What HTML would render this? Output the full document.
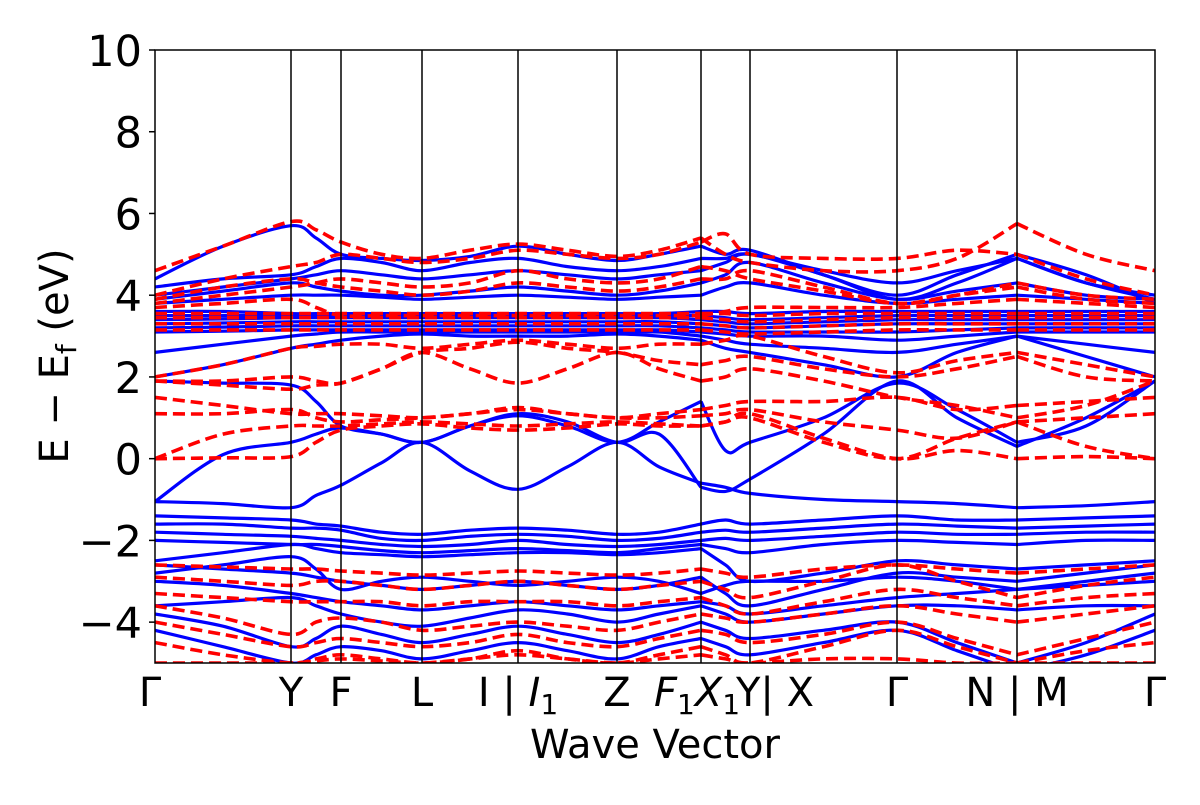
<!DOCTYPE html>
<html><head><meta charset="utf-8"><style>
html,body{margin:0;padding:0;background:#fff;}
svg text{font-family:"DejaVu Sans","Liberation Sans",sans-serif;fill:#000;}
</style></head><body>
<svg id="chart" width="1200" height="800" viewBox="0 0 1200 800" xmlns="http://www.w3.org/2000/svg">
<defs><clipPath id="clip"><rect x="155" y="50" width="1000" height="613"/></clipPath></defs>
<rect x="0" y="0" width="1200" height="800" fill="#fff"/>
<g id="bands" clip-path="url(#clip)"></g>
<g id="vlines"></g>
<rect x="155" y="50" width="1000" height="613" fill="none" stroke="#000" stroke-width="1.5"/>
<g id="yaxis"></g>
<g id="xaxis"></g>
<text x="655" y="758" font-size="40" text-anchor="middle">Wave Vector</text>
<text transform="translate(68,356) rotate(-90)" font-size="40" text-anchor="middle">E − E<tspan font-size="28" dy="8">f</tspan><tspan dy="-8"> (eV)</tspan></text>
</svg>
<script>
const kTicks=[0,136,186,267,363,462,546,595,742,862,1000];
const kLabels=["Γ","Y","F","L","I | <I>","Z","<F><X>","Y| X","Γ","N | M","Γ"];
const yTicks=[-4,-2,0,2,4,6,8,10];
const breakIdx=[12,18];
const blueBands=[
[-1.05,-1.1,-1.2,-0.9,-0.65,-0.1,0.4,-0.3,-0.75,-0.2,0.4,-0.2,-0.6,-0.7,-0.85,-1.0,-1.05,-1.1,-1.2,-1.15,-1.05],
[-1.05,0.1,0.4,0.6,0.75,0.6,0.4,0.8,1.05,0.8,0.4,0.9,1.4,0.2,0.4,1.0,1.85,1.2,0.4,0.8,1.9],
[1.9,1.85,1.8,1.4,0.8,0.6,0.4,0.8,1.1,0.9,0.4,0.6,-0.7,-0.8,-0.5,0.6,1.9,1.0,0.3,1.0,1.9],
[-1.4,-1.45,-1.5,-1.6,-1.65,-1.8,-1.85,-1.75,-1.7,-1.75,-1.85,-1.8,-1.6,-1.5,-1.6,-1.5,-1.4,-1.5,-1.5,-1.45,-1.4],
[-1.6,-1.6,-1.7,-1.7,-1.75,-1.95,-2.0,-1.9,-1.85,-1.9,-2.0,-1.95,-1.8,-1.75,-1.8,-1.7,-1.6,-1.65,-1.7,-1.65,-1.6],
[-1.8,-1.85,-1.9,-1.95,-2.0,-2.1,-2.15,-2.1,-2.0,-2.1,-2.15,-2.1,-2.0,-1.95,-2.0,-1.9,-1.8,-1.85,-1.85,-1.8,-1.8],
[-2.0,-2.05,-2.1,-2.1,-2.15,-2.25,-2.3,-2.25,-2.2,-2.25,-2.3,-2.2,-2.1,-2.2,-2.3,-2.1,-2.0,-2.05,-2.1,-2.0,-2.0],
[-2.5,-2.3,-2.1,-2.2,-2.3,-2.35,-2.4,-2.35,-2.3,-2.3,-2.35,-2.3,-2.2,-2.6,-3.0,-2.8,-2.5,-2.6,-2.7,-2.6,-2.5],
[-2.8,-2.6,-2.4,-2.7,-3.2,-3.0,-2.9,-3.0,-3.1,-3.0,-2.9,-3.0,-3.3,-3.1,-3.0,-3.0,-2.9,-3.0,-3.2,-3.0,-2.8],
[-3.0,-3.1,-3.3,-3.4,-3.5,-3.6,-3.7,-3.6,-3.5,-3.6,-3.7,-3.6,-3.5,-3.6,-3.8,-3.6,-3.4,-3.3,-3.2,-3.1,-3.0],
[-3.6,-3.5,-3.4,-3.6,-3.8,-4.0,-4.1,-3.9,-3.7,-3.8,-4.0,-3.8,-3.6,-3.8,-4.0,-3.8,-3.6,-3.6,-3.7,-3.6,-3.6],
[-3.8,-4.1,-4.6,-4.4,-4.1,-4.3,-4.5,-4.3,-4.1,-4.3,-4.5,-4.3,-4.0,-4.2,-4.4,-4.2,-4.0,-4.5,-5.0,-4.5,-3.8],
[-4.2,-4.6,-5.0,-4.8,-4.6,-4.7,-4.9,-4.7,-4.5,-4.7,-4.9,-4.6,-4.4,-4.6,-4.8,-4.5,-4.2,-4.7,-5.2,-4.8,-4.2],
[-2.6,-2.7,-2.8,-2.9,-3.0,-3.1,-3.2,-3.1,-3.0,-3.1,-3.2,-3.1,-2.9,-3.3,-3.6,-3.2,-2.8,-2.9,-3.0,-2.8,-2.6],
[2.0,2.3,2.7,2.8,2.9,3.0,3.05,3.0,3.0,3.0,3.05,3.0,2.9,2.7,2.6,2.3,2.0,2.6,3.0,2.5,2.0],
[2.6,2.8,3.0,3.05,3.1,3.1,3.1,3.1,3.1,3.1,3.1,3.1,3.0,2.9,2.8,2.7,2.6,2.8,3.0,2.8,2.6],
[3.1,3.12,3.15,3.15,3.15,3.15,3.15,3.15,3.15,3.15,3.15,3.15,3.1,3.05,3.0,3.0,2.9,3.0,3.1,3.1,3.1],
[3.2,3.22,3.25,3.25,3.25,3.25,3.25,3.25,3.25,3.25,3.25,3.25,3.2,3.15,3.1,3.1,3.1,3.15,3.2,3.2,3.2],
[3.3,3.32,3.35,3.35,3.35,3.35,3.35,3.35,3.35,3.35,3.35,3.35,3.3,3.25,3.2,3.25,3.3,3.3,3.3,3.3,3.3],
[3.4,3.42,3.45,3.45,3.45,3.45,3.45,3.45,3.45,3.45,3.45,3.45,3.4,3.35,3.3,3.35,3.4,3.4,3.4,3.4,3.4],
[3.5,3.5,3.5,3.5,3.5,3.5,3.5,3.5,3.5,3.5,3.5,3.5,3.5,3.45,3.4,3.45,3.5,3.5,3.5,3.5,3.5],
[3.6,3.6,3.55,3.55,3.55,3.55,3.55,3.55,3.55,3.55,3.55,3.55,3.6,3.6,3.55,3.6,3.6,3.6,3.6,3.6,3.6],
[3.8,3.9,4.0,4.0,4.0,3.95,3.9,3.95,4.0,3.95,3.9,3.95,4.0,4.2,4.3,4.0,3.8,3.9,4.0,3.9,3.8],
[3.9,4.1,4.3,4.2,4.1,4.0,4.0,4.1,4.2,4.1,4.0,4.1,4.3,4.5,4.8,4.3,3.9,4.1,4.3,4.0,3.9],
[4.0,4.2,4.4,4.5,4.6,4.5,4.4,4.5,4.6,4.5,4.4,4.5,4.6,4.8,5.0,4.5,3.9,4.3,4.9,4.3,4.0],
[4.4,5.2,5.7,5.4,5.0,4.9,4.85,4.95,5.2,5.0,4.85,5.0,5.2,5.0,5.1,4.5,4.0,4.5,5.0,4.5,3.8],
[4.2,4.4,4.5,4.7,4.9,4.8,4.6,4.8,4.9,4.7,4.6,4.7,4.9,4.9,5.0,4.6,4.3,4.6,4.9,4.3,3.9]
];
const redBands=[
[0,0.02,0.05,0.4,0.7,0.8,0.85,0.75,0.7,0.75,0.85,0.8,0.8,0.9,1.0,0.4,0.0,0.5,0.9,0.3,0],
[0,0.6,0.8,0.8,0.8,0.85,0.9,0.85,0.8,0.85,0.9,0.85,0.8,0.9,1.1,0.5,0,0.2,0,0.05,0],
[1.1,1.1,1.2,1.0,0.9,0.95,1.0,1.1,1.25,1.1,1.0,1.0,1.05,1.1,1.2,0.9,0.7,0.5,0.9,1.0,1.1],
[1.5,1.3,1.1,1.1,1.1,1.05,1.0,1.1,1.2,1.1,1.0,1.1,1.2,1.3,1.4,1.4,1.5,1.2,1.3,1.4,1.5],
[1.9,1.9,2.0,1.9,1.85,2.2,2.6,2.2,1.85,2.2,2.6,2.2,1.9,2.0,2.2,1.9,1.5,1.3,1.0,1.3,1.9],
[1.9,1.8,1.7,1.8,1.85,2.2,2.6,2.7,2.85,2.7,2.6,2.4,2.3,2.4,2.5,2.2,2.0,2.2,2.5,2.0,1.9],
[2.0,2.3,2.7,2.75,2.8,2.8,2.7,2.8,2.9,2.8,2.7,2.8,2.8,2.9,3.0,2.5,2.1,2.4,2.6,2.3,2.0],
[3.15,3.15,3.15,3.15,3.15,3.15,3.15,3.15,3.15,3.15,3.15,3.15,3.15,3.1,3.05,3.1,3.15,3.15,3.15,3.15,3.15],
[3.3,3.3,3.3,3.3,3.3,3.3,3.3,3.3,3.3,3.3,3.3,3.3,3.3,3.25,3.2,3.25,3.3,3.3,3.3,3.3,3.3],
[3.45,3.45,3.45,3.45,3.45,3.45,3.45,3.45,3.45,3.45,3.45,3.45,3.45,3.4,3.35,3.4,3.45,3.45,3.45,3.45,3.45],
[3.55,3.55,3.55,3.55,3.55,3.55,3.55,3.55,3.55,3.55,3.55,3.55,3.55,3.55,3.5,3.55,3.55,3.55,3.55,3.55,3.55],
[3.7,3.8,3.9,3.7,3.5,3.5,3.5,3.5,3.5,3.5,3.5,3.5,3.5,3.6,3.7,3.7,3.7,3.8,3.9,3.8,3.7],
[3.9,4.2,4.4,4.3,4.2,4.1,4.0,4.1,4.3,4.2,4.1,4.2,4.4,4.4,4.6,4.2,3.8,4.0,4.3,4.0,3.9],
[4.6,5.2,5.8,5.6,5.3,5.0,4.9,5.1,5.25,5.1,4.95,5.1,5.4,5.0,4.8,4.6,4.6,4.9,5.75,5.0,4.6],
[4.0,4.4,4.7,4.8,5.0,4.9,4.8,4.9,5.1,5.0,4.9,5.0,5.3,5.5,5.0,4.9,4.9,5.1,5.0,4.4,4.0],
[3.8,4.0,4.2,4.3,4.4,4.3,4.2,4.3,4.6,4.4,4.3,4.4,4.7,4.6,4.4,4.1,3.8,4.0,4.2,3.9,3.8],
[-2.6,-2.65,-2.7,-2.7,-2.75,-2.8,-2.85,-2.8,-2.75,-2.8,-2.85,-2.8,-2.7,-2.8,-2.9,-2.7,-2.6,-2.7,-2.8,-2.7,-2.6],
[-2.9,-3.0,-3.1,-3.0,-3.0,-3.1,-3.2,-3.1,-3.0,-3.1,-3.2,-3.1,-3.0,-3.2,-3.4,-3.0,-2.6,-3.0,-3.4,-3.1,-2.9],
[-3.3,-3.4,-3.5,-3.5,-3.5,-3.5,-3.6,-3.5,-3.5,-3.5,-3.6,-3.5,-3.4,-3.6,-3.8,-3.5,-3.2,-3.4,-3.6,-3.4,-3.3],
[-3.6,-3.9,-4.3,-4.0,-3.9,-4.0,-4.2,-4.1,-4.0,-4.1,-4.2,-4.0,-3.8,-3.9,-4.0,-3.8,-3.6,-3.8,-4.0,-3.8,-3.6],
[-4.0,-4.3,-4.6,-4.5,-4.4,-4.5,-4.6,-4.5,-4.3,-4.5,-4.6,-4.4,-4.2,-4.3,-4.5,-4.3,-4.0,-4.4,-4.8,-4.4,-4.0],
[-4.5,-4.8,-5.0,-4.9,-4.8,-4.9,-5.0,-4.9,-4.7,-4.9,-5.0,-4.8,-4.6,-4.8,-5.0,-4.6,-4.2,-4.6,-5.0,-4.7,-4.5],
[-5.0,-5.0,-5.0,-4.95,-4.9,-4.95,-5.0,-4.9,-4.8,-4.9,-5.0,-4.9,-4.8,-4.9,-5.0,-4.9,-4.9,-5.0,-5.0,-5.0,-5.0]
];
const NS="http://www.w3.org/2000/svg";
const X0=155,X1=1155,Y0=663,Y1=50,EMIN=-5,EMAX=10;
function xs(d){return X0+d/1000*(X1-X0);}
function ys(e){return Y0-(e-EMIN)/(EMAX-EMIN)*(Y0-Y1);}
const kGrid=[];
for(let i=0;i<kTicks.length;i++){kGrid.push(kTicks[i]);if(i<kTicks.length-1)kGrid.push((kTicks[i]+kTicks[i+1])/2);}
function spline(p){
  let d="M"+p[0][0].toFixed(1)+","+p[0][1].toFixed(1);
  for(let i=0;i<p.length-1;i++){
    const a=p[Math.max(0,i-1)],b=p[i],c=p[i+1],e=p[Math.min(p.length-1,i+2)];
    const c1=[b[0]+(c[0]-a[0])/6,b[1]+(c[1]-a[1])/6],c2=[c[0]-(e[0]-b[0])/6,c[1]-(e[1]-b[1])/6];
    d+="C"+c1.map(v=>v.toFixed(1))+" "+c2.map(v=>v.toFixed(1))+" "+c[0].toFixed(1)+","+c[1].toFixed(1);
  }
  return d;
}
function pathFor(vals){
  const p=vals.map((v,i)=>[xs(kGrid[i]),ys(v)]);
  const cuts=[0].concat(breakIdx,[p.length-1]);
  let d="";
  for(let s=0;s<cuts.length-1;s++)d+=spline(p.slice(cuts[s],cuts[s+1]+1));
  return d;
}
const g=document.getElementById("bands");
blueBands.forEach((b,i)=>{
  const el=document.createElementNS(NS,"path");
  el.setAttribute("d",pathFor(b));el.setAttribute("fill","none");el.setAttribute("stroke","#0000ff");el.setAttribute("stroke-width","3.2");
  
  
  g.appendChild(el);
});
redBands.forEach((b,i)=>{
  const el=document.createElementNS(NS,"path");
  el.setAttribute("d",pathFor(b));el.setAttribute("fill","none");el.setAttribute("stroke","#ff0000");el.setAttribute("stroke-width","3.6");el.setAttribute("stroke-dasharray","12,6");
  
  
  g.appendChild(el);
});
const vl=document.getElementById("vlines"),xa=document.getElementById("xaxis"),ya=document.getElementById("yaxis");
function addLabel(x,i){
  const t=document.createElementNS(NS,"text");
  t.setAttribute("x",x);t.setAttribute("y",706);t.setAttribute("font-size","40");t.setAttribute("text-anchor","middle");
  const lab=kLabels[i];
  if(lab==="I | <I>"){t.innerHTML='I | <tspan font-style="italic">I</tspan><tspan font-size="28" dy="8">1</tspan>';}
  else if(lab==="<F><X>"){t.innerHTML='<tspan font-style="italic">F</tspan><tspan font-size="28" dy="8">1</tspan><tspan dy="-8" font-style="italic">X</tspan><tspan font-size="28" dy="8">1</tspan>';t.setAttribute("x",x-4);}
  else t.textContent=lab;
  
  
  xa.appendChild(t);
}
kTicks.forEach((k,i)=>{
  if(i>0&&i<kTicks.length-1){
    const l=document.createElementNS(NS,"line");
    l.setAttribute("x1",xs(k));l.setAttribute("x2",xs(k));l.setAttribute("y1",Y1);l.setAttribute("y2",Y0);l.setAttribute("stroke","#000");l.setAttribute("stroke-width","1.5");
    
    
    vl.appendChild(l);
  }
  addLabel(xs(k)-(i===0?5:0)+(i===7?25:0),i);
});
yTicks.forEach(v=>{
  const l=document.createElementNS(NS,"line");
  l.setAttribute("x1",X0-6);l.setAttribute("x2",X0);l.setAttribute("y1",ys(v));l.setAttribute("y2",ys(v));l.setAttribute("stroke","#000");l.setAttribute("stroke-width","1.5");
  
  
  ya.appendChild(l);
  const t=document.createElementNS(NS,"text");
  t.setAttribute("x",X0-13);t.setAttribute("y",ys(v)+16);t.setAttribute("font-size","43");t.setAttribute("text-anchor","end");
  t.textContent=v<0?"−"+Math.abs(v):String(v);
  
  
  ya.appendChild(t);
});
</script>
</body></html>
